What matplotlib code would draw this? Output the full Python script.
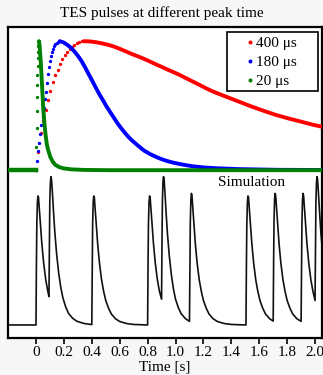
import numpy as np
import matplotlib
matplotlib.use("Agg")
import matplotlib.pyplot as plt
from matplotlib.patches import Rectangle

plt.rcParams['font.family'] = ['Liberation Serif', 'DejaVu Serif']

# TES pulses (time in us, amplitude normalised to peak)
red_rise_t = [0, 20, 40, 60, 80, 100, 120, 140, 160, 180, 200, 220, 240, 260, 280, 300, 320, 340, 360, 380, 400]
red_rise_a = [0.0, 0.14, 0.285, 0.385, 0.465, 0.545, 0.615, 0.68, 0.735, 0.78, 0.825, 0.86, 0.89, 0.915,
              0.94, 0.958, 0.973, 0.985, 0.993, 0.998, 1.0]
red_fall_t = [400, 450, 500, 550, 600, 650, 700, 750, 800, 850, 900, 950, 1000, 1050, 1100, 1150, 1200,
              1250, 1300, 1350, 1400, 1450, 1500, 1550, 1600, 1700, 1800, 1900, 2000, 2100, 2200, 2300, 2400]
red_fall_a = [1.0, 0.998, 0.992, 0.983, 0.972, 0.958, 0.94, 0.92, 0.90, 0.882, 0.863, 0.842, 0.82, 0.80,
              0.778, 0.758, 0.737, 0.713, 0.69, 0.667, 0.643, 0.62, 0.60, 0.582, 0.564, 0.528, 0.492,
              0.459, 0.428, 0.402, 0.378, 0.354, 0.333]

blue_rise_t = [0, 9, 18, 27, 36, 45, 54, 63, 72, 81, 90, 99, 108, 117, 126, 135, 144, 153, 162, 171, 180, 189, 198]
blue_rise_a = [0.0, 0.075, 0.145, 0.21, 0.28, 0.35, 0.415, 0.48, 0.555, 0.607, 0.675, 0.745, 0.80, 0.845,
               0.885, 0.915, 0.94, 0.96, 0.975, 0.987, 0.995, 0.999, 1.0]
blue_fall_t = [198, 230, 260, 290, 320, 350, 380, 410, 440, 470, 500, 530, 560, 590, 620, 650, 680, 710,
               740, 770, 800, 850, 900, 950, 1000, 1050, 1100, 1150, 1200, 1300, 1400, 1500, 1700, 2000, 2400]
blue_fall_a = [1.0, 0.99, 0.972, 0.95, 0.92, 0.885, 0.845, 0.795, 0.742, 0.69, 0.636, 0.585, 0.538, 0.49,
               0.447, 0.405, 0.362, 0.325, 0.29, 0.258, 0.23, 0.19, 0.152, 0.125, 0.103, 0.084, 0.069,
               0.057, 0.047, 0.031, 0.021, 0.015, 0.008, 0.003, 0.001]

green_rise_t = [0, 2, 4, 6, 8, 10, 12, 14, 16, 18, 20, 22, 24]
green_rise_a = [0.0, 0.18, 0.33, 0.46, 0.57, 0.66, 0.74, 0.81, 0.87, 0.92, 0.96, 0.99, 1.0]
green_fall_t = [24, 30, 40, 50, 60, 70, 80, 90, 100, 120, 140, 160, 190, 230, 300, 400, 600, 2400]
green_fall_a = [1.0, 0.96, 0.83, 0.66, 0.48, 0.36, 0.27, 0.2, 0.16, 0.1, 0.065, 0.042, 0.025, 0.014,
                0.006, 0.002, 0.0, 0.0]
pretrig_t = [-240, 0]
pretrig_a = [0.0, 0.0]

labels = ["400 \u03bcs", "180 \u03bcs", "20 \u03bcs"]

# simulated pulse train (time in s)
sim_t = [-0.2, 0.0,
         0.003, 0.006, 0.010, 0.014, 0.018, 0.024, 0.032, 0.042, 0.055, 0.070, 0.085, 0.093,
         0.096, 0.099, 0.103, 0.107, 0.111, 0.117, 0.125, 0.135, 0.148, 0.163, 0.178, 0.193, 0.213, 0.233,
         0.263, 0.293, 0.343, 0.400,
         0.403, 0.406, 0.410, 0.414, 0.418, 0.424, 0.432, 0.442, 0.455, 0.470, 0.485, 0.500, 0.520, 0.540,
         0.570, 0.600, 0.650, 0.700, 0.800,
         0.803, 0.806, 0.810, 0.814, 0.818, 0.824, 0.832, 0.842, 0.855, 0.870, 0.885, 0.900,
         0.903, 0.906, 0.910, 0.914, 0.918, 0.924, 0.932, 0.942, 0.955, 0.970, 0.985, 1.000, 1.020, 1.040,
         1.070, 1.100,
         1.103, 1.106, 1.110, 1.114, 1.118, 1.124, 1.132, 1.142, 1.155, 1.170, 1.185, 1.200, 1.220, 1.240,
         1.270, 1.300, 1.350, 1.400, 1.505,
         1.508, 1.511, 1.515, 1.519, 1.523, 1.529, 1.537, 1.547, 1.560, 1.575, 1.590, 1.605, 1.625, 1.645,
         1.675, 1.700,
         1.703, 1.706, 1.710, 1.714, 1.718, 1.724, 1.732, 1.742, 1.755, 1.770, 1.785, 1.800, 1.820, 1.840,
         1.870, 1.900,
         1.903, 1.906, 1.910, 1.914, 1.918, 1.924, 1.932, 1.942, 1.955, 1.970, 1.985, 2.000,
         2.003, 2.006, 2.010, 2.014, 2.018, 2.024, 2.032, 2.042, 2.055]
sim_y = [0.0, 0.0,
         0.45, 0.78, 0.95, 1.0, 0.99, 0.9, 0.77, 0.63, 0.48, 0.35, 0.26, 0.22,
         0.64, 0.95, 1.10, 1.15, 1.13, 1.04, 0.89, 0.72, 0.55, 0.40, 0.29, 0.21, 0.14, 0.09,
         0.052, 0.029, 0.012, 0.003,
         0.45, 0.78, 0.95, 1.0, 0.99, 0.9, 0.77, 0.63, 0.48, 0.35, 0.26, 0.19, 0.13, 0.085,
         0.048, 0.027, 0.011, 0.004, 0.0,
         0.45, 0.78, 0.95, 1.0, 0.99, 0.9, 0.77, 0.63, 0.48, 0.35, 0.26, 0.2,
         0.64, 0.96, 1.11, 1.15, 1.13, 1.03, 0.88, 0.71, 0.54, 0.39, 0.28, 0.2, 0.135, 0.088,
         0.05, 0.028,
         0.47, 0.80, 0.97, 1.02, 1.0, 0.91, 0.78, 0.63, 0.48, 0.35, 0.26, 0.19, 0.13, 0.085,
         0.048, 0.027, 0.011, 0.004, 0.0,
         0.45, 0.78, 0.95, 1.0, 0.99, 0.9, 0.77, 0.63, 0.48, 0.35, 0.26, 0.19, 0.13, 0.085,
         0.048, 0.03,
         0.48, 0.81, 0.98, 1.02, 1.0, 0.91, 0.78, 0.63, 0.48, 0.35, 0.26, 0.19, 0.13, 0.085,
         0.048, 0.028,
         0.47, 0.80, 0.97, 1.02, 1.0, 0.91, 0.78, 0.63, 0.48, 0.35, 0.26, 0.19,
         0.62, 0.94, 1.10, 1.15, 1.13, 1.03, 0.88, 0.71, 0.55]

tick_vals = [0, 0.2, 0.4, 0.6, 0.8, 1.0, 1.2, 1.4, 1.6, 1.8, 2.0]
tick_labels = ["0", "0.2", "0.4", "0.6", "0.8", "1.0", "1.2", "1.4", "1.6", "1.8", "2.0"]

tes_offset = 1.2   # TES pulses drawn above the simulated trace

fig = plt.figure(figsize=(3.23, 3.75), dpi=100, facecolor="#f7f7f7")
ax = fig.add_axes([0.025, 0.099, 0.972, 0.829])
ax.plot(sim_t, sim_y, color="#111111", linewidth=1.2)
ax.set_xlim(-0.2, 2.05)
ax.set_ylim(-0.10, 2.31)
ax.set_yticks([])
ax.set_xticks(tick_vals)
ax.set_xticklabels(tick_labels)
ax.tick_params(axis="x", direction="out", length=4, width=1.2, labelsize=11, pad=2)
for s in ax.spines.values():
    s.set_linewidth(1.6)
ax.set_xlabel("Time [s]", fontsize=11, labelpad=1)
fig.text(0.5, 1 - 13 / 375, "TES pulses at different peak time", ha="center", va="center", fontsize=11)
ax.text(0.777, 0.50, "Simulation", transform=ax.transAxes, ha="center", va="center", fontsize=11)

top = ax.twiny()
top.set_xlim(-233, 2383)
top.axis("off")
handles = []
curves = [(red_rise_t, red_rise_a, red_fall_t, red_fall_a, "#ff0000"),
          (blue_rise_t, blue_rise_a, blue_fall_t, blue_fall_a, "#0000ff"),
          (green_rise_t, green_rise_a, green_fall_t, green_fall_a, "#008000")]
for i, (rt, ra, ft, fa, c) in enumerate(curves):
    top.plot(ft, np.array(fa) + tes_offset, color=c, linewidth=2.8, zorder=2 + i,
             solid_capstyle="round", solid_joinstyle="round")
    h, = top.plot(rt, np.array(ra) + tes_offset, "o", color=c, markersize=2.4, markeredgewidth=0,
                  zorder=2 + i, label=labels[i])
    handles.append(h)
top.plot(pretrig_t, np.array(pretrig_a) + tes_offset, color="#008000", linewidth=3.2, zorder=4)

# legend box drawn separately so it can be wider than its entries
ax.add_patch(Rectangle((0.697, 0.794), 0.29, 0.191, transform=ax.transAxes, facecolor="white",
                       edgecolor="black", linewidth=1.2, zorder=10))
leg = top.legend(handles=handles, loc="upper left", bbox_to_anchor=(0.75, 0.969), fontsize=11,
                 frameon=False, handlelength=0.8, handletextpad=0.0, borderpad=0.0,
                 labelspacing=0.35, borderaxespad=0.0, markerscale=1.2)
leg.set_zorder(11)

fig.savefig("out.png", dpi=100, facecolor=fig.get_facecolor())
